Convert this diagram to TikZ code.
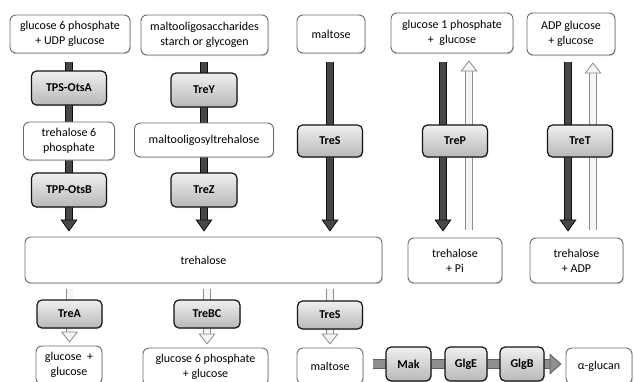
\documentclass[tikz,border=0pt]{standalone}
\usepackage{fontspec}
\setmainfont{Carlito}
\usetikzlibrary{arrows.meta, positioning, calc, shadows, backgrounds}

\tikzset{
  subst/.style={draw=black!58, line width=0.9pt, rounded corners=6pt, fill=white, align=center, inner sep=1pt,
    font=\fontsize{12}{15}\selectfont, drop shadow={shadow xshift=0.8pt, shadow yshift=-1.2pt, opacity=0.3}},
  enzyme/.style={draw=black!92, line width=1.2pt, rounded corners=5pt, top color=black!6, bottom color=black!28, inner sep=1pt,
    font=\fontsize{12}{15}\selectfont\bfseries, drop shadow={shadow xshift=0.8pt, shadow yshift=-1.2pt, opacity=0.3}},
  darkarrow/.style={draw=black!95, line width=0.8pt, double=black!72, double distance=6pt,
    -{Triangle[width=17pt, length=12pt, line width=0.8pt, fill=black!72]}},
  lightarrow/.style={draw=black!45, line width=0.8pt, double=black!4, double distance=6pt,
    -{Triangle[width=17pt, length=11pt, line width=0.8pt, fill=black!4]}},
  grayarrow/.style={draw=black!62, line width=0.8pt, double=black!44, double distance=8.5pt,
    -{Triangle[width=21pt, length=12pt, line width=0.8pt, fill=black!44]}}
}

\begin{document}
\begin{tikzpicture}[x=1pt, y=-1pt]
  \useasboundingbox (0,0) rectangle (634,381);
  \clip (0,0) rectangle (634,381);

  % Top row: substrates
  \node[subst, minimum width=120, minimum height=38] (g6p) at (70,34) {glucose 6 phosphate\\+ UDP glucose};
  \node[subst, minimum width=127, minimum height=40] (mos) at (204.5,35) {maltooligosaccharides\\starch or glycogen};
  \node[subst, minimum width=68, minimum height=38] (malt) at (331,34) {maltose};
  \node[subst, minimum width=122, minimum height=40] (g1p) at (452,33) {glucose 1 phosphate\\+~ glucose};
  \node[subst, minimum width=88, minimum height=42] (adpg) at (571,34) {ADP glucose\\+ glucose};

  % Synthesis enzymes and intermediates
  \node[enzyme, minimum width=75, minimum height=34] (otsA) at (69,88) {TPS-OtsA};
  \node[subst, minimum width=91, minimum height=38] (t6p) at (69,141) {trehalose 6\\phosphate};
  \node[enzyme, minimum width=75, minimum height=34] (otsB) at (69,190) {TPP-OtsB};
  \node[enzyme, minimum width=66, minimum height=34] (treY) at (204,90) {TreY};
  \node[subst, minimum width=139, minimum height=34] (mot) at (204,140) {maltooligosyltrehalose};
  \node[enzyme, minimum width=66, minimum height=34] (treZ) at (204,190) {TreZ};
  \node[enzyme, minimum width=65, minimum height=32] (treS) at (330,141) {TreS};
  \node[enzyme, minimum width=65, minimum height=32] (treP) at (455,141) {TreP};
  \node[enzyme, minimum width=65, minimum height=32] (treT) at (580,141) {TreT};

  % Trehalose row
  \node[subst, minimum width=357, minimum height=46] (tre) at (203.5,260) {trehalose};
  \node[subst, minimum width=94, minimum height=45] (trePi) at (455,260.5) {trehalose\\+ Pi};
  \node[subst, minimum width=93, minimum height=45] (treADP) at (576.5,260.5) {trehalose\\+ ADP};

  % Degradation
  \node[enzyme, minimum width=65, minimum height=28] (treA) at (69.5,314) {TreA};
  \node[enzyme, minimum width=66, minimum height=28] (treBC) at (207,314) {TreBC};
  \node[enzyme, minimum width=65, minimum height=28] (treS2) at (330,315) {TreS};
  \node[subst, minimum width=66, minimum height=38] (glc) at (69,365) {glucose~ +\\glucose};
  \node[subst, minimum width=125, minimum height=38] (g6pglc) at (205.5,367) {glucose 6 phosphate\\+ glucose};
  \node[subst, minimum width=66, minimum height=36] (malt2) at (330,366) {maltose};
  \node[enzyme, minimum width=45, minimum height=34] (mak) at (408.5,364) {Mak};
  \node[enzyme, minimum width=42, minimum height=34] (glgE) at (466,364) {GlgE};
  \node[enzyme, minimum width=44, minimum height=34] (glgB) at (522,364) {GlgB};
  \node[subst, minimum width=66, minimum height=36] (aglc) at (599,366) {α-glucan};

  \coordinate (pdown) at ($(treP.center)+(-12,0)$);
  \coordinate (pup) at ($(treP.center)+(14,0)$);
  \coordinate (tdown) at ($(treT.center)+(-12,0)$);
  \coordinate (tup) at ($(treT.center)+(13,0)$);

  % Connectors behind the boxes
  \begin{pgfonlayer}{background}
    \draw[darkarrow, shorten <=9pt, shorten >=5pt] (otsA.center |- g6p.south) -- (otsA.center |- tre.north);
    \draw[darkarrow, shorten <=7pt, shorten >=5pt] (treY.center |- mos.south) -- (treY.center |- tre.north);
    \draw[darkarrow, shorten <=9pt, shorten >=5pt] (treS.center |- malt.south) -- (treS.center |- tre.north);
    \draw[darkarrow, shorten <=9pt, shorten >=6pt] (pdown |- g1p.south) -- (pdown |- trePi.north);
    \draw[lightarrow, shorten <=8pt, shorten >=7pt] (pup |- trePi.north) -- (pup |- g1p.south);
    \draw[darkarrow, shorten <=7pt, shorten >=6pt] (tdown |- adpg.south) -- (tdown |- treADP.north);
    \draw[lightarrow, shorten <=8pt, shorten >=7pt] (tup |- treADP.north) -- (tup |- adpg.south);
    \draw[lightarrow, shorten <=6pt, shorten >=3pt] (treA.center |- tre.south) -- (treA.center |- glc.north);
    \draw[lightarrow, shorten <=6pt, shorten >=3pt] (treBC.center |- tre.south) -- (treBC.center |- g6pglc.north);
    \draw[lightarrow, shorten <=6pt, shorten >=3pt] (treS2.center |- tre.south) -- (treS2.center |- malt2.north);
    \draw[grayarrow, shorten <=10pt, shorten >=4pt] (malt2.east |- mak.center) -- (aglc.west |- mak.center);
  \end{pgfonlayer}
\end{tikzpicture}
\end{document}
